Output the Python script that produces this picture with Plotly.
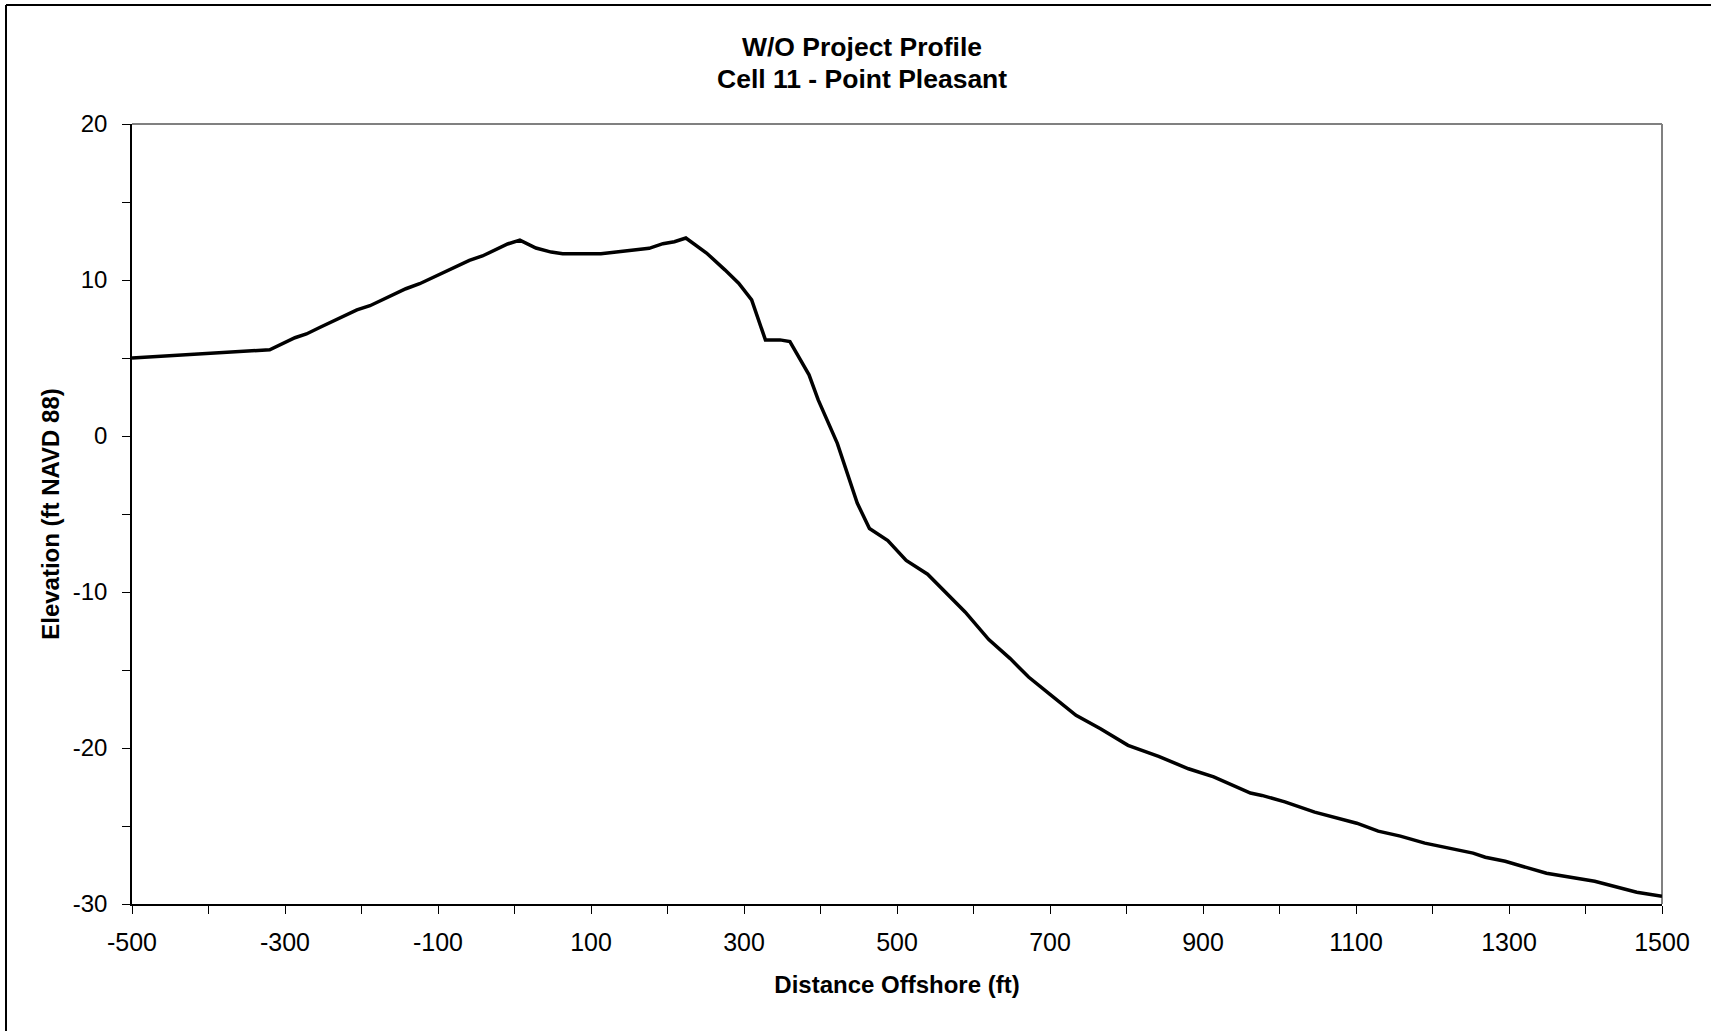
import plotly.graph_objects as go

# Profile data (Distance Offshore, ft) and (Elevation, ft NAVD 88)
distance_ft = [-500, -320, -287, -272, -254, -237, -206, -189, -172, -142, -124, -108,
               -79, -59, -42, -9, 7, 28, 48, 63, 113, 148, 176, 194, 209, 224,
               251, 275, 293, 310, 328, 347, 360, 385, 397, 422, 448, 464, 488,
               512, 540, 589, 620, 648, 672, 700, 734, 766, 802, 842, 881, 914,
               962, 977, 1007, 1046, 1101, 1129, 1158, 1190, 1253, 1269, 1295,
               1349, 1412, 1467, 1500]
elevation_ft = [5.0, 5.53, 6.30, 6.54, 6.97, 7.35, 8.08, 8.35, 8.74, 9.44, 9.76, 10.13,
                10.81, 11.26, 11.54, 12.31, 12.56, 12.05, 11.79, 11.69, 11.69, 11.88,
                12.03, 12.33, 12.45, 12.69, 11.73, 10.65, 9.80, 8.73, 6.16, 6.16,
                6.05, 3.92, 2.31, -0.47, -4.3, -5.93, -6.7, -7.98, -8.86, -11.28,
                -13.05, -14.27, -15.45, -16.56, -17.91, -18.76, -19.83, -20.54,
                -21.33, -21.85, -22.89, -23.04, -23.45, -24.11, -24.82, -25.33,
                -25.65, -26.1, -26.74, -27.0, -27.26, -28.03, -28.54, -29.25, -29.51]

x_tick_values = [-500, -300, -100, 100, 300, 500, 700, 900, 1100, 1300, 1500]
x_tick_labels = ["-500", "-300", "-100", "100", "300", "500", "700", "900", "1100", "1300", "1500"]
y_tick_values = [-30, -20, -10, 0, 10, 20]
y_tick_labels = ["-30", "-20", "-10", "0", "10", "20"]

title_lines = ["W/O Project Profile", "Cell 11 - Point Pleasant"]
x_title = "Distance Offshore (ft)"
y_title = "Elevation (ft NAVD 88)"

FONT = "Liberation Sans, Arial, sans-serif"

fig = go.Figure()
fig.add_trace(go.Scatter(
    x=distance_ft, y=elevation_ft, mode="lines",
    line=dict(color="black", width=3.5), showlegend=False, hoverinfo="x+y",
))

W, H = 1711, 1031
L, R, T, B = 132, 49, 124, 127
plot_h = H - T - B
plot_w = W - L - R

def py(pix):
    return (H - B - pix) / plot_h

def px(pix):
    return (pix - L) / plot_w

fig.update_layout(
    width=W, height=H,
    margin=dict(l=L, r=R, t=T, b=B, pad=0),
    paper_bgcolor="white", plot_bgcolor="white",
    font=dict(family=FONT, color="black", size=25),
    showlegend=False,
)

fig.update_xaxes(
    range=[-500, 1500],
    tickmode="array", tickvals=x_tick_values, ticktext=x_tick_labels,
    showgrid=False, zeroline=False,
    showline=True, linecolor="black", linewidth=1.5,
    ticks="outside", ticklen=8, tickcolor="black", tickwidth=1.2,
    minor=dict(dtick=100, tick0=-500, ticks="outside", ticklen=8, tickcolor="black", tickwidth=1.2, showgrid=False),
    tickfont=dict(size=25, family=FONT),
    ticklabelstandoff=7,
    title=dict(text=x_title, font=dict(size=24, family=FONT, weight="bold"), standoff=21),
)
fig.update_yaxes(
    range=[-30, 20],
    tickmode="array", tickvals=y_tick_values, ticktext=y_tick_labels,
    showgrid=False, zeroline=False,
    showline=True, linecolor="black", linewidth=1.5,
    ticks="outside", ticklen=8, tickcolor="black", tickwidth=1.2,
    minor=dict(dtick=5, tick0=-30, ticks="outside", ticklen=8, tickcolor="black", tickwidth=1.2, showgrid=False),
    tickfont=dict(size=24, family=FONT),
    ticklabelstandoff=10,
    title=dict(text=y_title, font=dict(size=24, family=FONT, weight="bold"), standoff=6),
)

# gray plot-area border (top and right), outer chart border (top and left)
fig.add_shape(type="line", xref="paper", yref="paper", x0=0, x1=1, y0=1, y1=1,
              line=dict(color="#808080", width=2), layer="below")
fig.add_shape(type="line", xref="paper", yref="paper", x0=1, x1=1, y0=0, y1=1,
              line=dict(color="#808080", width=2), layer="below")
fig.add_shape(type="line", xref="paper", yref="paper", x0=px(6), x1=px(W + 5), y0=py(5), y1=py(5),
              line=dict(color="black", width=2))
fig.add_shape(type="line", xref="paper", yref="paper", x0=px(6), x1=px(6), y0=py(5), y1=py(H + 5),
              line=dict(color="black", width=2))

for line_text, ypix in zip(title_lines, [47.5, 79.5]):
    fig.add_annotation(text="<b>" + line_text + "</b>", xref="paper", yref="paper",
                       x=px(862), y=py(ypix), xanchor="center", yanchor="middle",
                       showarrow=False, font=dict(size=26.5, family=FONT, color="black"))

fig.write_html("out.html", config={"displayModeBar": False},
               post_script="document.body.style.margin='0';")
